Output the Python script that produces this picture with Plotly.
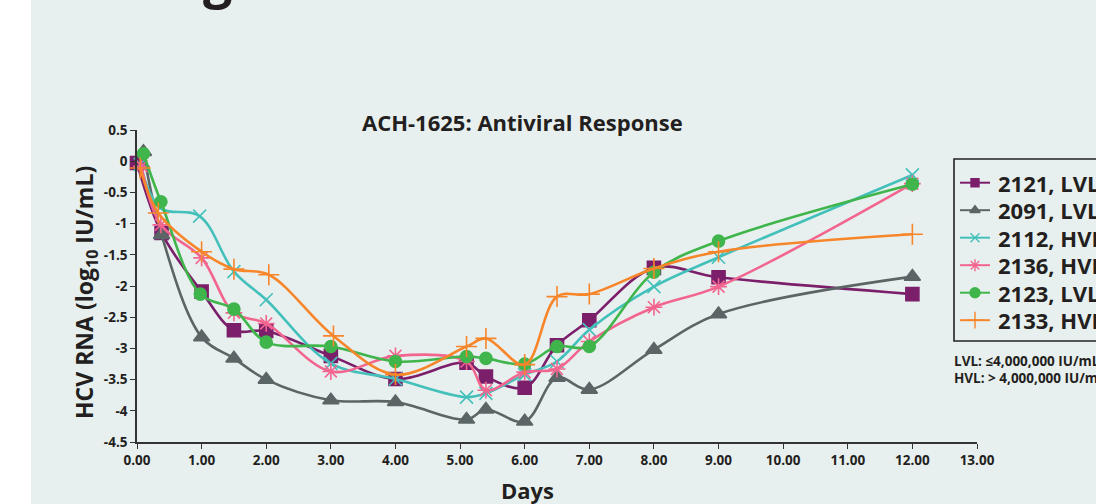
import plotly.graph_objects as go

# ---------------- data ----------------
series_names = ["2121, LVL", "2091, LVL", "2112, HVL", "2136, HVL", "2123, LVL", "2133, HVL"]
series_colors = ["#7c1f6b", "#5b6566", "#44c0bb", "#f2658f", "#3fb54c", "#f7852a"]

days_2121 = [0, 0.38, 1, 1.5, 2, 3, 4, 5.1, 5.4, 6, 6.5, 7, 8, 9, 12]
vals_2121 = [-0.03, -1.15, -2.09, -2.71, -2.72, -3.12, -3.49, -3.23, -3.45, -3.63, -2.95, -2.55, -1.71, -1.86, -2.13]

days_2091 = [0.1, 0.38, 1, 1.5, 2, 3, 4, 5.1, 5.4, 6, 6.5, 7, 8, 9, 12]
vals_2091 = [0.15, -1.18, -2.82, -3.16, -3.5, -3.83, -3.86, -4.14, -3.98, -4.17, -3.47, -3.66, -3.02, -2.45, -1.85]

days_2112 = [0.05, 0.36, 0.97, 1.5, 2, 3, 4, 5.1, 5.4, 6, 6.5, 7, 8, 9, 12]
vals_2112 = [-0.05, -0.75, -0.88, -1.77, -2.22, -3.24, -3.49, -3.78, -3.72, -3.42, -3.21, -2.7, -2.01, -1.54, -0.22]

days_2136 = [0.07, 0.37, 1, 1.5, 2, 3, 4, 5.1, 5.4, 6, 6.5, 7, 8, 9, 12]
vals_2136 = [-0.08, -1.02, -1.55, -2.43, -2.6, -3.37, -3.12, -3.21, -3.67, -3.38, -3.33, -2.89, -2.34, -2.01, -0.36]

days_2123 = [0.1, 0.37, 0.98, 1.5, 2, 3, 4, 5.1, 5.4, 6, 6.5, 7, 8, 9, 12]
vals_2123 = [0.12, -0.65, -2.13, -2.37, -2.9, -2.97, -3.21, -3.13, -3.16, -3.25, -2.97, -2.97, -1.78, -1.28, -0.37]

days_2133 = [0.05, 0.33, 1, 1.5, 2.04, 3.04, 4, 5.1, 5.4, 6, 6.5, 7, 8, 9, 12]
vals_2133 = [-0.11, -0.83, -1.45, -1.73, -1.82, -2.8, -3.42, -2.97, -2.84, -3.26, -2.17, -2.13, -1.72, -1.45, -1.17]

x_tickvals = list(range(0, 14))
x_ticktext = ["0.00", "1.00", "2.00", "3.00", "4.00", "5.00", "6.00", "7.00",
              "8.00", "9.00", "10.00", "11.00", "12.00", "13.00"]
y_tickvals = [0.5, 0, -0.5, -1, -1.5, -2, -2.5, -3, -3.5, -4, -4.5]
y_ticktext = ["0.5", "0", "-0.5", "-1", "-1.5", "-2", "-2.5", "-3", "-3.5", "-4", "-4.5"]

chart_title = "ACH-1625: Antiviral Response"
x_title = "Days"
y_title = "HCV RNA (log<sub>10</sub> IU/mL)"
note_lines = ["LVL: \u22644,000,000 IU/mL", "HVL: > 4,000,000 IU/mL"]

# ---------------- style ----------------
BG = "#e8f0ef"
TXT = "#231f20"
FONT = "Open Sans"
W, H = 1096, 504
L, R, T, B = 137, 1096 - 977, 130, 504 - 442
PW, PH = W - L - R, H - T - B

symbols = ["square", "triangle-up", "x-thin-open", "asterisk-open", "circle", "cross-thin-open"]
sizes = [13, 14, 13, 14, 12, 15]
leg_sizes = [8, 9, 9, 10, 10, 12]

all_days = [days_2121, days_2091, days_2112, days_2136, days_2123, days_2133]
all_vals = [vals_2121, vals_2091, vals_2112, vals_2136, vals_2123, vals_2133]


def px_x(p):
    return (p - L) / PW


def px_y(p):
    return (H - B - p) / PH


fig = go.Figure()
for name, col, sym, sz, xs, ys in zip(series_names, series_colors, symbols, sizes, all_days, all_vals):
    fig.add_trace(go.Scatter(
        x=xs, y=ys, name=name, mode="lines+markers",
        line=dict(color=col, width=2.6, shape="spline", smoothing=1),
        marker=dict(symbol=sym, size=sz, color=col, line=dict(width=1.6, color=col)),
        showlegend=False, cliponaxis=False,
    ))

# ---- manual legend (box runs past the right edge like the reference) ----
shapes = []
annotations = []
leg_left, leg_top, leg_bot = 954, 159, 341
shapes.append(dict(type="rect", xref="paper", yref="paper",
                   x0=px_x(leg_left), x1=px_x(1120), y0=px_y(leg_bot), y1=px_y(leg_top),
                   line=dict(color="#222222", width=1.6), fillcolor=BG, layer="below"))
row0, dy = 182.7, 27.5
for i, (name, col) in enumerate(zip(series_names, series_colors)):
    yc = row0 + i * dy
    shapes.append(dict(type="line", xref="paper", yref="paper",
                       x0=px_x(960), x1=px_x(990), y0=px_y(yc), y1=px_y(yc),
                       line=dict(color=col, width=2)))
    annotations.append(dict(text=name, xref="paper", yref="paper", x=px_x(996), y=px_y(yc),
                            xanchor="left", yanchor="middle", showarrow=False,
                            font=dict(family=FONT, size=22, color=TXT, weight="bold")))
    fig.add_trace(go.Scatter(
        x=[975], y=[yc], xaxis="x2", yaxis="y2", mode="markers", showlegend=False,
        marker=dict(symbol=symbols[i], size=leg_sizes[i], color=col, line=dict(width=1.4, color=col)),
        cliponaxis=False, hoverinfo="skip"))

for j, line in enumerate(note_lines):
    annotations.append(dict(text=line, xref="paper", yref="paper", x=px_x(952), y=px_y(361 + j * 16.5),
                            xanchor="left", yanchor="middle", showarrow=False,
                            font=dict(family=FONT, size=13.5, color=TXT, weight="bold")))

# white strip on the left of the slide
shapes.append(dict(type="rect", xref="paper", yref="paper", x0=px_x(-5), x1=px_x(31),
                   y0=px_y(H + 5), y1=px_y(-5), line=dict(width=0), fillcolor="#ffffff", layer="below"))

# titles
annotations.append(dict(text=chart_title, xref="paper", yref="paper", x=px_x(522), y=px_y(122),
                        xanchor="center", yanchor="middle", showarrow=False,
                        font=dict(family=FONT, size=22, color=TXT, weight="bold")))
annotations.append(dict(text=x_title, xref="paper", yref="paper", x=px_x(527), y=px_y(490),
                        xanchor="center", yanchor="middle", showarrow=False,
                        font=dict(family=FONT, size=22, color=TXT, weight="bold")))
annotations.append(dict(text=y_title, xref="paper", yref="paper", x=px_x(85), y=px_y(293),
                        xanchor="center", yanchor="middle", showarrow=False, textangle=-90,
                        font=dict(family=FONT, size=23, color=TXT, weight="bold")))
# cut-off slide heading (only a descender visible)
annotations.append(dict(text="g", xref="paper", yref="paper", x=px_x(217), y=px_y(14),
                        xanchor="center", yanchor="bottom", showarrow=False,
                        font=dict(family=FONT, size=52, color=TXT, weight="bold")))

tick_font = dict(family=FONT, size=13.5, color=TXT, weight="bold")
fig.update_layout(
    width=W, height=H, margin=dict(l=L, r=R, t=T, b=B, autoexpand=False),
    paper_bgcolor=BG, plot_bgcolor=BG, showlegend=False,
    shapes=shapes, annotations=annotations,
    xaxis=dict(range=[0, 13], tickvals=x_tickvals, ticktext=x_ticktext, showgrid=False, zeroline=False,
               showline=True, linecolor="#333333", linewidth=1.6, ticks="outside", ticklen=5,
               tickcolor="#333333", tickwidth=1.4, tickfont=tick_font),
    yaxis=dict(range=[-4.5, 0.5], tickvals=y_tickvals, ticktext=y_ticktext, showgrid=False, zeroline=False,
               showline=True, linecolor="#333333", linewidth=1.6, ticks="outside", ticklen=5,
               tickcolor="#333333", tickwidth=1.4, tickfont=tick_font),
    xaxis2=dict(overlaying="x", range=[L, L + PW], visible=False, fixedrange=True),
    yaxis2=dict(overlaying="y", range=[H - B, T], visible=False, fixedrange=True),
)

fig.write_html("out.html")
